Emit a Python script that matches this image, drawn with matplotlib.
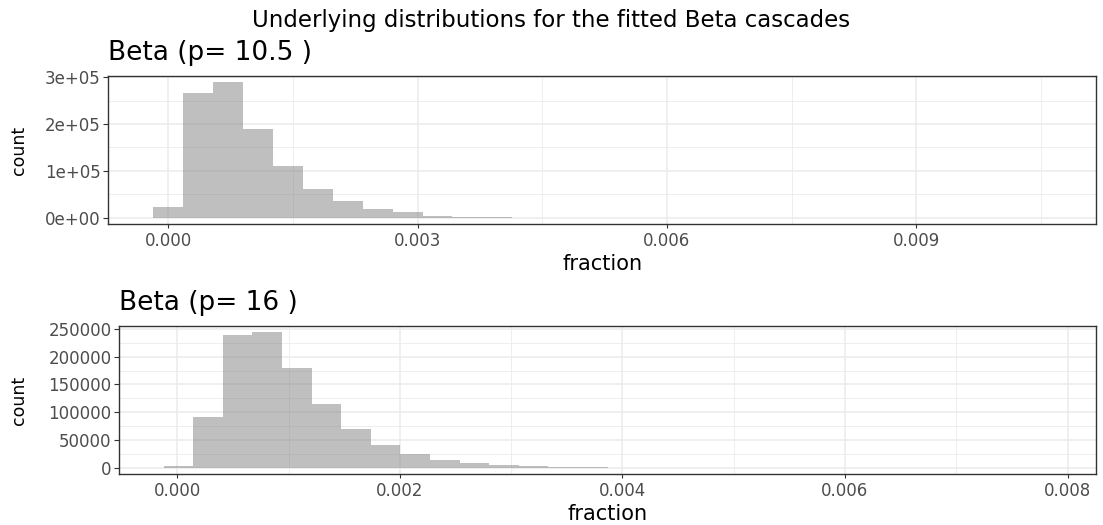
import numpy as np
import matplotlib
matplotlib.use("Agg")
from matplotlib import pyplot as plt
from matplotlib.ticker import MultipleLocator, FuncFormatter

plt.rcParams["font.family"] = ["DejaVu Sans"]

# histogram counts, 30 bins each (ggplot default)
counts_105 = [22200, 267000, 289000, 189000, 111000, 61300, 35700, 18500,
              11400, 4300, 1800, 900, 60, 30, 15, 8, 5, 3, 2, 1,
              1, 1, 0, 0, 1, 0, 0, 0, 0, 1]
counts_16 = [2500, 92100, 239800, 244000, 180600, 115400, 68800, 40000,
             23900, 14400, 7800, 5000, 2600, 1800, 1100, 50, 25, 12, 6,
             4, 2, 1, 1, 1, 0, 0, 1, 0, 0, 1]
first_center_105, width_105 = 0.0, 0.00036
first_center_16, width_16 = 0.00001, 0.000266

titles = ["Beta (p= 10.5 )", "Beta (p= 16 )"]
x_major = [0.003, 0.002]
x_minor = [0.0015, 0.001]
y_major = [100000, 50000]
y_minor = [50000, 25000]

W, H = 1103, 525
fig = plt.figure(figsize=(W / 100, H / 100), dpi=100)
fig.text(0.5, 1 - 27 / H, "Underlying distributions for the fitted Beta cascades",
         ha="center", va="baseline", fontsize=16.5, color="black")

# axes boxes in pixels: left, right, top, bottom
boxes = [(108.3, 1096, 75.7, 224.3), (119.3, 1096, 325.7, 474.3)]
xlabel_base = [270, 520]


def sci_fmt(v, pos):
    if v == 0:
        return "0e+00"
    e = int(np.floor(np.log10(abs(v))))
    return "%de+%02d" % (round(v / 10 ** e), e)


for i, (counts, c0, w) in enumerate([(counts_105, first_center_105, width_105),
                                     (counts_16, first_center_16, width_16)]):
    l, r, t, b = boxes[i]
    ax = fig.add_axes([l / W, 1 - b / H, (r - l) / W, (b - t) / H])
    centers = c0 + w * np.arange(len(counts))
    ax.bar(centers, counts, width=w, color="#808080", alpha=0.5,
           linewidth=0, zorder=2)

    lo, hi = centers[0] - w / 2, centers[-1] + w / 2
    pad = 0.05 * (hi - lo)
    ax.set_xlim(lo - pad, hi + pad)
    ymax = max(counts)
    ax.set_ylim(-0.05 * ymax, 1.05 * ymax)

    ax.xaxis.set_major_locator(MultipleLocator(x_major[i]))
    ax.xaxis.set_minor_locator(MultipleLocator(x_minor[i]))
    ax.yaxis.set_major_locator(MultipleLocator(y_major[i]))
    ax.yaxis.set_minor_locator(MultipleLocator(y_minor[i]))
    ax.xaxis.set_major_formatter(FuncFormatter(lambda v, p: "%.3f" % v))
    if i == 0:
        ax.yaxis.set_major_formatter(FuncFormatter(sci_fmt))
    else:
        ax.yaxis.set_major_formatter(FuncFormatter(lambda v, p: "%d" % round(v)))

    ax.grid(which="major", color="#EBEBEB", linewidth=1.1, zorder=0)
    ax.grid(which="minor", color="#EBEBEB", linewidth=0.6, zorder=0)
    ax.set_axisbelow(True)
    ax.tick_params(which="major", width=0.8, color="#333333",
                   labelsize=12, labelcolor="#4D4D4D")
    ax.tick_params(axis="x", which="major", length=2.7, pad=3)
    ax.tick_params(axis="y", which="major", length=3.6, pad=2)
    ax.tick_params(which="minor", length=0)
    for s in ax.spines.values():
        s.set_color("#333333")
        s.set_linewidth(1.0)

    fig.text((l + r) / 2 / W, 1 - xlabel_base[i] / H, "fraction",
             ha="center", va="baseline", fontsize=15)
    fig.text(19 / W, 1 - (t + b) / 2 / H, "count", rotation=90,
             ha="center", va="center", fontsize=12.5)
    ax.set_title(titles[i], loc="left", fontsize=19, pad=11)

fig.savefig("out.png", dpi=100)
